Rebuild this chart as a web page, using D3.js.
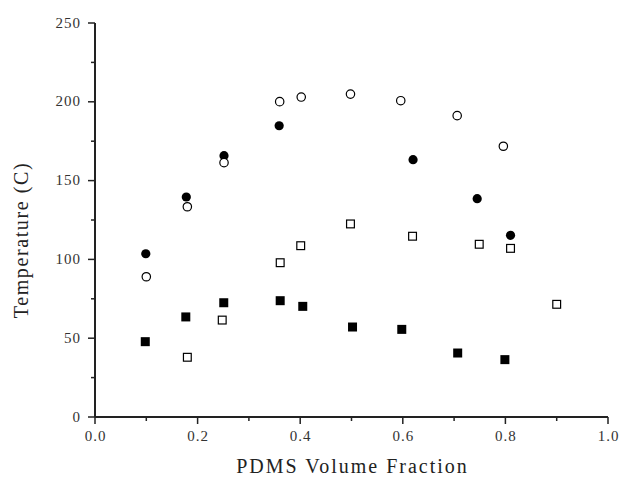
<!DOCTYPE html>
<html>
<head>
<meta charset="utf-8">
<script src="https://cdn.jsdelivr.net/npm/d3@7"></script>
<style>
  body { margin: 0; background: #fff; }
  svg { font-family: "Liberation Serif", "DejaVu Serif", serif; }
</style>
</head>
<body>
<div id="chart"></div>
<script>
// data
const filledCircleX = [0.099, 0.178, 0.2515, 0.359, 0.620, 0.745, 0.810];
const filledCircleY = [103.6, 139.6, 165.8, 184.8, 163.3, 138.5, 115.3];

const openCircleX = [0.100, 0.180, 0.2515, 0.360, 0.402, 0.498, 0.596, 0.706, 0.796];
const openCircleY = [89.0, 133.4, 161.4, 200.1, 203.0, 204.9, 200.7, 191.2, 171.8];

const filledSquareX = [0.098, 0.177, 0.251, 0.361, 0.405, 0.502, 0.598, 0.707, 0.799];
const filledSquareY = [47.8, 63.5, 72.5, 73.8, 70.2, 57.1, 55.6, 40.6, 36.4];

const openSquareX = [0.180, 0.248, 0.361, 0.401, 0.498, 0.619, 0.749, 0.810, 0.900];
const openSquareY = [37.9, 61.5, 97.9, 108.7, 122.5, 114.7, 109.6, 107.0, 71.5];

const xTicks = [0, 0.2, 0.4, 0.6, 0.8, 1.0];
const xMinor = [0.1, 0.3, 0.5, 0.7, 0.9];
const yTicks = [0, 50, 100, 150, 200, 250];
const yMinor = [25, 75, 125, 175, 225];

const width = 619, height = 480;
const svg = d3.select("#chart").append("svg")
    .attr("width", width)
    .attr("height", height);

const x = d3.scaleLinear().domain([0, 1]).range([95, 608]);
const y = d3.scaleLinear().domain([0, 250]).range([417, 23]);

const ink = "#222";

// x axis
const xAxis = svg.append("g").attr("transform", "translate(0," + y(0) + ")");
xAxis.append("line").attr("x1", x(0)).attr("x2", x(1)).attr("stroke", ink).attr("stroke-width", 2);
xAxis.selectAll(".maj").data(xTicks).enter().append("line")
    .attr("x1", d => x(d)).attr("x2", d => x(d)).attr("y1", 0).attr("y2", 7)
    .attr("stroke", ink).attr("stroke-width", 1.5);
xAxis.selectAll(".min").data(xMinor).enter().append("line")
    .attr("x1", d => x(d)).attr("x2", d => x(d)).attr("y1", 0).attr("y2", 4)
    .attr("stroke", ink).attr("stroke-width", 1.5);
xAxis.selectAll("text").data(xTicks).enter().append("text")
    .attr("x", d => x(d) + 0.5).attr("y", 24)
    .attr("text-anchor", "middle")
    .style("font-size", "15px").style("letter-spacing", "1px").attr("fill", "#333")
    .text(d3.format(".1f"));

// y axis
const yAxis = svg.append("g").attr("transform", "translate(" + x(0) + ",0)");
yAxis.append("line").attr("y1", y(0)).attr("y2", y(250)).attr("stroke", ink).attr("stroke-width", 2);
yAxis.selectAll(".maj").data(yTicks).enter().append("line")
    .attr("y1", d => y(d)).attr("y2", d => y(d)).attr("x1", 0).attr("x2", -7)
    .attr("stroke", ink).attr("stroke-width", 1.5);
yAxis.selectAll(".min").data(yMinor).enter().append("line")
    .attr("y1", d => y(d)).attr("y2", d => y(d)).attr("x1", 0).attr("x2", -4)
    .attr("stroke", ink).attr("stroke-width", 1.5);
yAxis.selectAll("text").data(yTicks).enter().append("text")
    .attr("x", -14).attr("y", d => y(d)).attr("dy", "0.3em")
    .attr("text-anchor", "end")
    .style("font-size", "15px").style("letter-spacing", "1px").attr("fill", "#333")
    .text(d => d);

// axis titles
svg.append("text")
    .attr("x", (x(0) + x(1)) / 2 + 1).attr("y", 473)
    .attr("text-anchor", "middle")
    .style("font-size", "20px").style("letter-spacing", "2px").attr("fill", ink)
    .text("PDMS Volume Fraction");

svg.append("text")
    .attr("transform", "translate(28,240)rotate(-90)")
    .attr("text-anchor", "middle")
    .style("font-size", "20px").style("letter-spacing", "1.6px").attr("fill", ink)
    .text("Temperature (C)");

// markers
function pts(xs, ys) { return xs.map((d, i) => ({x: d, y: ys[i]})); }

svg.append("g").selectAll("circle").data(pts(filledCircleX, filledCircleY)).enter().append("circle")
    .attr("cx", d => x(d.x)).attr("cy", d => y(d.y)).attr("r", 4.6)
    .attr("fill", "#000");

svg.append("g").selectAll("circle").data(pts(openCircleX, openCircleY)).enter().append("circle")
    .attr("cx", d => x(d.x)).attr("cy", d => y(d.y)).attr("r", 4.2)
    .attr("fill", "#fff").attr("stroke", "#000").attr("stroke-width", 1.2);

svg.append("g").selectAll("rect").data(pts(filledSquareX, filledSquareY)).enter().append("rect")
    .attr("x", d => x(d.x) - 4.5).attr("y", d => y(d.y) - 4.5)
    .attr("width", 9).attr("height", 9)
    .attr("fill", "#000");

svg.append("g").selectAll("rect").data(pts(openSquareX, openSquareY)).enter().append("rect")
    .attr("x", d => x(d.x) - 3.9).attr("y", d => y(d.y) - 3.9)
    .attr("width", 7.8).attr("height", 7.8)
    .attr("fill", "#fff").attr("stroke", "#000").attr("stroke-width", 1.2);
</script>
</body>
</html>
